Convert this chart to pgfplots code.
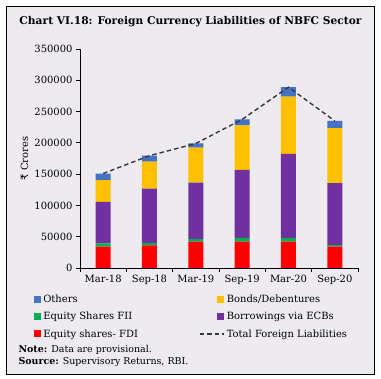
\documentclass[border=0pt]{standalone}
\usepackage{pgfplots}
\pgfplotsset{compat=1.18}
\usepackage{fontspec}
\setmainfont{DejaVu Serif}
\newfontfamily\rupeefont{DejaVu Sans}
\definecolor{bg}{RGB}{237,234,240}
\definecolor{cfdi}{RGB}{255,0,0}
\definecolor{cfii}{RGB}{0,176,80}
\definecolor{cecb}{RGB}{112,48,160}
\definecolor{cbond}{RGB}{255,192,0}
\definecolor{coth}{RGB}{68,114,196}
\definecolor{ctot}{RGB}{55,55,60}
\pgfplotsset{
  sqlegend/.style={legend image code/.code={\path[draw=none, fill=none] (0bp,-3.5bp) rectangle (24.5bp,3.5bp); \fill[##1, draw=none] (17.5bp,-3.5bp) rectangle (24.5bp,3.5bp);}},
  dashlegend/.style={legend image code/.code={\path[draw=none, fill=none] (0bp,-3.5bp) rectangle (24.5bp,3.5bp); \draw[##1] (0bp,0bp) -- (24.5bp,0bp);}},
}
\begin{document}
\begin{tikzpicture}[x=1bp,y=1bp]
\useasboundingbox (0,0) rectangle (381,379);
\fill[bg] (6,5) rectangle (374,373);
\draw[black, line width=0.9bp] (6,5) rectangle (374,373);
\node[font=\bfseries\fontsize{10.7}{12}\selectfont] at (190.5,357) {Chart VI.18: Foreign Currency Liabilities of NBFC Sector};
\begin{axis}[
  at={(80bp,111bp)}, anchor=south west,
  scale only axis, width=278bp, height=219bp,
  ybar stacked, bar width=15bp,
  xmin=-0.5, xmax=5.5, ymin=0, ymax=350000,
  axis x line*=bottom, axis y line*=left,
  axis line style={black, line width=0.8bp, -},
  xtick={0,...,5},
  xticklabels={Mar-18,Sep-18,Mar-19,Sep-19,Mar-20,Sep-20},
  minor xtick={-0.5,0.5,...,5.5},
  major x tick style={draw=none},
  ytick={0,50000,100000,150000,200000,250000,300000,350000},
  yticklabels={0,50000,100000,150000,200000,250000,300000,350000},
  tick align=outside, major tick length=4bp, minor tick length=4bp,
  tick style={black, line width=0.8bp},
  tick label style={font=\fontsize{10}{12}\selectfont},
  scaled y ticks=false,
  ylabel={{\rupeefont ₹} Crores},
  ylabel style={font=\fontsize{10}{12}\selectfont, at={(axis description cs:-0.2,0.5)}, anchor=center},
]
\addplot[fill=cfdi, draw=none] coordinates {(0,34000) (1,36300) (2,42000) (3,42000) (4,42000) (5,34000)};
\addplot[fill=cfii, draw=none] coordinates {(0,5500) (1,3700) (2,4000) (3,6000) (4,6000) (5,2500)};
\addplot[fill=cecb, draw=none] coordinates {(0,66000) (1,87000) (2,90500) (3,109000) (4,134500) (5,99000)};
\addplot[fill=cbond, draw=none] coordinates {(0,35000) (1,43000) (2,56000) (3,71000) (4,91500) (5,88000)};
\addplot[fill=coth, draw=none] coordinates {(0,10500) (1,9500) (2,6500) (3,9500) (4,15000) (5,11500)};
\end{axis}
\begin{axis}[
  at={(80bp,111bp)}, anchor=south west,
  scale only axis, width=278bp, height=219bp,
  xmin=-0.5, xmax=5.5, ymin=0, ymax=350000,
  hide axis,
  legend columns=2,
  legend cell align=left,
  legend style={draw=none, fill=none, at={(axis description cs:-0.228,-0.114)}, anchor=north west,
    font=\fontsize{10}{12}\selectfont, row sep=4.1bp, inner sep=0pt,
    /tikz/column 2/.style={column sep=59bp}},
]
\addplot[ctot, line width=1.4bp, dash pattern=on 4.5bp off 3bp, forget plot] coordinates {(0,151000) (1,179500) (2,199000) (3,237500) (4,289000) (5,235000)};
\addlegendimage{sqlegend, fill=coth}
\addlegendentry{Others}
\addlegendimage{sqlegend, fill=cbond}
\addlegendentry{Bonds/Debentures}
\addlegendimage{sqlegend, fill=cfii}
\addlegendentry{Equity Shares FII}
\addlegendimage{sqlegend, fill=cecb}
\addlegendentry{Borrowings via ECBs}
\addlegendimage{sqlegend, fill=cfdi}
\addlegendentry{Equity shares- FDI}
\addlegendimage{dashlegend, ctot, line width=1.4bp, dash pattern=on 4.5bp off 3bp}
\addlegendentry{Total Foreign Liabilities}
\end{axis}
\node[anchor=west, font=\fontsize{9.5}{11}\selectfont] at (15,29) {\textbf{Note:} Data are provisional.};
\node[anchor=west, font=\fontsize{9.5}{11}\selectfont] at (15,17) {\textbf{Source:} Supervisory Returns, RBI.};
\end{tikzpicture}
\end{document}
